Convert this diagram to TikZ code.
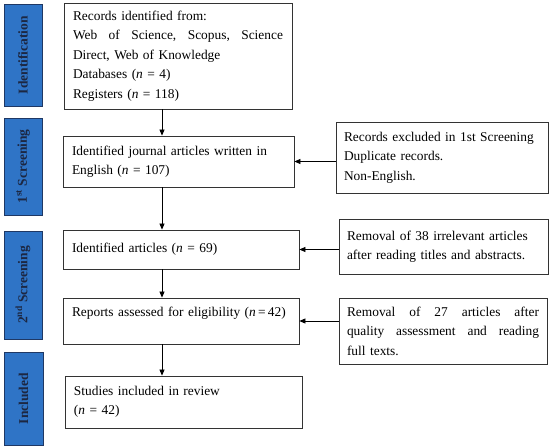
\documentclass[tikz,border=0pt]{standalone}
\usepackage{fontspec}
\setmainfont{Liberation Serif}
\usetikzlibrary{arrows.meta}
\definecolor{barfill}{HTML}{2F74C6}
\definecolor{barline}{HTML}{1F3864}
\definecolor{bartext}{HTML}{1C2742}
\definecolor{boxline}{HTML}{333333}
\begin{document}
\begin{tikzpicture}[x=1pt,y=-1pt,
  txt/.style={font=\fontsize{13.4pt}{19.5pt}\selectfont},
  flowbox/.style={draw=boxline, line width=0.8pt, fill=white, inner sep=0pt, align=left, txt},
  stagebar/.style={draw=barline, line width=0.8pt, fill=barfill, inner sep=0pt},
  stagetext/.style={rotate=90, text=bartext, font=\fontsize{13.5pt}{15pt}\selectfont\bfseries},
  arr/.style={draw=black, line width=0.7pt, -{Triangle[length=6pt,width=5pt]}}
]
\useasboundingbox (0,0) rectangle (550,448);

% stage bars
\node[stagebar, minimum width=38pt, minimum height=102pt] (s1) at (23,55) {};
\node[stagetext] (s1t) at (s1.center) {Identification};
\node[stagebar, minimum width=38pt, minimum height=97pt] (s2) at (23,166.5) {};
\node[stagetext] (s2t) at (s2.center) {1\textsuperscript{st} Screening};
\node[stagebar, minimum width=38pt, minimum height=108pt] (s3) at (23,285) {};
\node[stagetext] (s3t) at (s3.center) {2\textsuperscript{nd} Screening};
\node[stagebar, minimum width=39pt, minimum height=93pt] (s4) at (23.5,398.5) {};
\node[stagetext] (s4t) at (s4.center) {Included};

% main boxes
\node[flowbox, minimum width=228pt, minimum height=106pt, text width=210pt] (b1) at (178,56)
  {Records identified from:\\
   \makebox[210pt][s]{Web\hfill of\hfill Science,\hfill Scopus,\hfill Science}\\
   Direct, Web of Knowledge\\
   Databases (\textit{n} = 4)\\
   Registers (\textit{n} = 118)};
\node[flowbox, minimum width=231pt, minimum height=51pt, text width=213pt] (b2) at (178.5,161.5)
  {Identified journal articles written in\\ English (\textit{n} = 107)};
\node[flowbox, minimum width=236pt, minimum height=39pt, text width=218pt] (b3) at (181,249.5)
  {Identified articles (\textit{n} = 69)};
\node[flowbox, minimum width=236pt, minimum height=46pt, text width=218pt] (b4) at (181,321)
  {\mbox{Reports assessed for eligibility (\textit{n}\,=\,42)}\\[-2pt]\mbox{}};
\node[flowbox, minimum width=237pt, minimum height=52pt, text width=219pt] (b5) at (183.5,402)
  {Studies included in review\\ (\textit{n} = 42)};

% exclusion boxes
\node[flowbox, minimum width=212pt, minimum height=71pt, text width=196pt] (e1) at (442,157.5)
  {Records excluded in 1st Screening\\ Duplicate records.\\ Non-English.};
\node[flowbox, minimum width=209pt, minimum height=55pt, text width=193pt] (e2) at (443.5,246.5)
  {Removal of 38 irrelevant articles\\ after reading titles and abstracts.};
\node[flowbox, minimum width=208pt, minimum height=66pt, text width=192pt] (e3) at (443,331)
  {\makebox[192pt][s]{Removal\hfill of\hfill 27\hfill articles\hfill after}\\
   \makebox[192pt][s]{quality\hfill assessment\hfill and\hfill reading}\\
   full texts.};

% connectors
\coordinate (ax) at (162,0);
\draw[arr] (b1.south -| ax) -- (b2.north -| ax);
\draw[arr] (b2.south -| ax) -- (b3.north -| ax);
\draw[arr] (b3.south -| ax) -- (b4.north -| ax);
\draw[arr] (b4.south -| ax) -- (b5.north -| ax);
\draw[arr] (e1.west |- b2.east) -- (b2.east);
\draw[arr] (e2.west |- b3.east) -- (b3.east);
\draw[arr] (e3.west |- b4.east) -- (b4.east);
\end{tikzpicture}
\end{document}
